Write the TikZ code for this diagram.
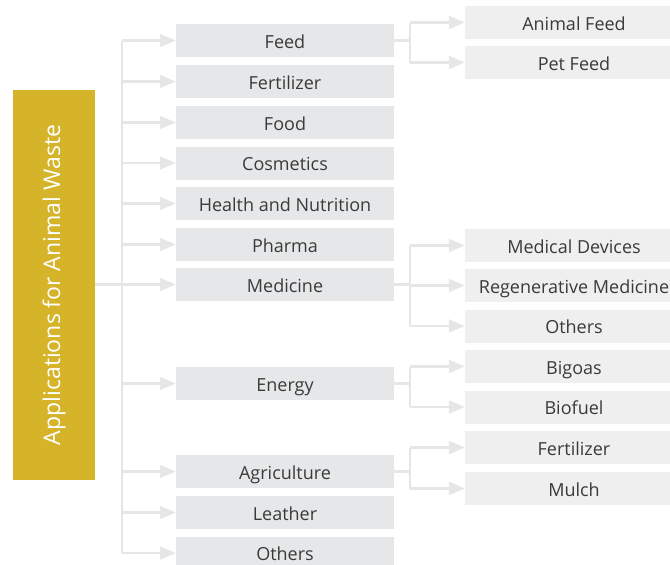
\documentclass[tikz,border=0pt]{standalone}
\usepackage{fontspec}
\setmainfont{Open Sans}
\usetikzlibrary{arrows.meta}
\definecolor{wastegold}{HTML}{D6B42A}
\definecolor{boxgrey}{HTML}{E6E7E8}
\definecolor{subgrey}{HTML}{EFEFEF}
\definecolor{linegrey}{HTML}{E6E6E6}
\definecolor{textgrey}{HTML}{3A3A3A}
\def\boxfont{\fontsize{18}{20}\selectfont}

\begin{document}
\begin{tikzpicture}[x=1pt, y=-1pt,
		mainbox/.style={fill=boxgrey, text=textgrey, minimum width=218pt, minimum height=33pt, inner sep=0pt, text height=15pt, text depth=0pt, font=\boxfont},
		subbox/.style={mainbox, fill=subgrey},
		wire/.style={draw=linegrey, line width=2.2pt},
		link/.style={wire, -{Triangle[length=16pt,width=13pt]}}]
			%%%%% START %%%%%
			\useasboundingbox (0, 0) rectangle (670, 565);
			
			\node[fill=wastegold, minimum width=82pt, minimum height=390pt, inner sep=0pt] (bar) at (54, 285) {};
			\node[rotate=90, text=white, font=\fontsize{23}{25}\selectfont] (title) at (bar) {Applications for Animal Waste};
			
			\node[mainbox] (feed) at (285, 40.5) {Feed};
			\node[mainbox] (fert) at (285, 81.5) {Fertilizer};
			\node[mainbox] (food) at (285, 122.5) {Food};
			\node[mainbox] (cosm) at (285, 163) {Cosmetics};
			\node[mainbox] (health) at (285, 203.5) {Health and Nutrition};
			\node[mainbox] (pharma) at (285, 244.5) {Pharma};
			\node[mainbox] (med) at (285, 284.5) {Medicine};
			\node[mainbox] (energy) at (285, 383.5) {Energy};
			\node[mainbox] (agri) at (285, 471.5) {Agriculture};
			\node[mainbox] (leather) at (285, 512.5) {Leather};
			\node[mainbox] (others) at (285, 553) {Others};
			
			\node[subbox] (animal) at (574, 22.5) {Animal Feed};
			\node[subbox] (pet) at (574, 62.5) {Pet Feed};
			\node[subbox] (devices) at (574, 245.5) {Medical Devices};
			\node[subbox] (regen) at (574, 285.5) {Regenerative Medicine};
			\node[subbox] (medothers) at (574, 326) {Others};
			\node[subbox] (biogas) at (574, 366.5) {Bigoas};
			\node[subbox] (biofuel) at (574, 407) {Biofuel};
			\node[subbox] (agrifert) at (574, 447.5) {Fertilizer};
			\node[subbox] (mulch) at (574, 488.5) {Mulch};
			
			\coordinate (trunk) at (122, 0);
			\coordinate (fork) at (410, 0);
			
			% main tree
			\draw[wire] (trunk |- feed) -- (trunk |- others);
			\draw[link] (bar.east |- med) -- (med.west);
			\foreach \n in {feed, fert, food, cosm, health, pharma, energy, agri, leather, others}
				\draw[link] (trunk |- \n) -- (\n.west);
			
			% sub trees
			\foreach \p/\a/\b in {feed/animal/pet, med/devices/medothers, energy/biogas/biofuel, agri/agrifert/mulch} {
				\draw[wire] (\p.east) -- (fork |- \p);
				\draw[wire] (fork |- \a) -- (fork |- \b);
			}
			\foreach \c in {animal, pet, devices, regen, medothers, biogas, biofuel, agrifert, mulch}
				\draw[link] (fork |- \c) -- (\c.west);
			%%%%% END %%%%%
		\end{tikzpicture}
\end{document}
